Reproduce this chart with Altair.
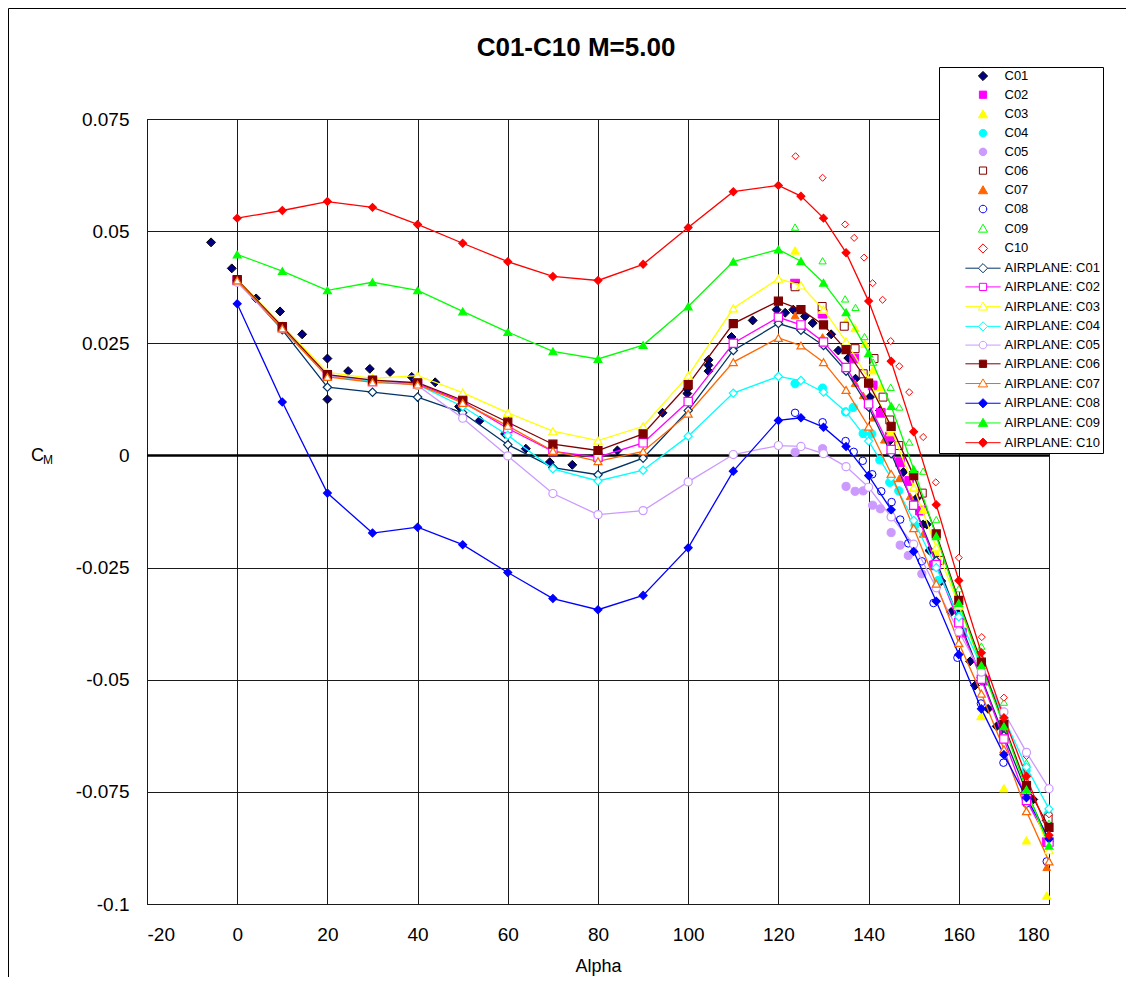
import altair as alt
import pandas as pd

# ---------------- text ----------------
TITLE = "C01-C10 M=5.00"
X_LABEL = "Alpha"
Y_LABEL_MAIN = "C"
Y_LABEL_SUB = "M"
X_TICKS = [-20, 0, 20, 40, 60, 80, 100, 120, 140, 160, 180]
Y_TICKS = [-0.1, -0.075, -0.05, -0.025, 0, 0.025, 0.05, 0.075]

SCATTER_NAMES = ["C01", "C02", "C03", "C04", "C05", "C06", "C07", "C08", "C09", "C10"]
LINE_NAMES = ["AIRPLANE: C01", "AIRPLANE: C02", "AIRPLANE: C03", "AIRPLANE: C04", "AIRPLANE: C05",
              "AIRPLANE: C06", "AIRPLANE: C07", "AIRPLANE: C08", "AIRPLANE: C09", "AIRPLANE: C10"]

# ---------------- scatter series (alpha, Cm) ----------------
C01_A = [-5.8, -1.2, 4.2, 9.5, 14.4, 20.0, 20.0, 24.6, 29.4, 33.9, 38.7, 39.5, 43.9, 49.2, 53.8,
         59.4, 64.0, 69.3, 74.3, 84.3, 94.3, 99.8, 99.8, 104.5, 104.5, 104.5, 109.6, 114.3, 119.6, 121.5,
         123.3, 125.9, 127.6, 131.7, 133.3, 135.5, 137.1, 140.3, 142.5, 144.7, 147.7, 150.7, 152.1, 152.9,
         153.5, 156.1, 158.3, 160.0, 162.5, 163.6, 166.5, 168.4, 176.5, 179.5]
C01_M = [0.0475, 0.0417, 0.0350, 0.0321, 0.0270, 0.0216, 0.0125, 0.0188, 0.0193, 0.0186, 0.0175, 0.0165,
         0.0163, 0.0109, 0.0078, 0.0048, 0.0015, -0.0015, -0.0021, 0.0011, 0.0095, 0.0138, 0.0148, 0.0213,
         0.0201, 0.0188, 0.0264, 0.0301, 0.0325, 0.0318, 0.0325, 0.0310, 0.0295, 0.0270, 0.0234, 0.0217,
         0.0171, 0.0130, 0.0100, 0.0033, -0.0037, -0.0095, -0.0154, -0.0154, -0.0212, -0.0280, -0.0349,
         -0.0349, -0.0459, -0.0513, -0.0565, -0.0604, -0.0767, -0.0814]

C02_A = [123.7, 129.8, 136.8, 140.9, 142.7, 144.7, 147.0, 149.0, 151.4, 154.5, 160.7, 165.8, 170.0, 174.9, 179.5]
C02_M = [0.0383, 0.0316, 0.0216, 0.0156, 0.0095, 0.0042, -0.0015, -0.0057, -0.0123, -0.0245, -0.0395,
         -0.0502, -0.0620, -0.0747, -0.0862]

C03_A = [123.7, 129.8, 135.0, 137.0, 139.2, 140.9, 142.7, 144.9, 149.9, 152.1, 154.9, 160.0, 164.9, 170.0, 175.0, 179.5]
C03_M = [0.0457, 0.0325, 0.0299, 0.0284, 0.0249, 0.0190, 0.0152, 0.0052, -0.0072, -0.0121, -0.0216, -0.0420,
         -0.0581, -0.0742, -0.0858, -0.0981]

C04_A = [123.7, 129.8, 134.9, 136.6, 138.8, 140.7, 142.5, 144.7, 146.7, 150.3, 155.4, 160.3, 165.1, 170.0, 174.9, 179.8]
C04_M = [0.0160, 0.0150, 0.0097, 0.0107, 0.0049, 0.0048, -0.0010, -0.0060, -0.0079, -0.0156, -0.0279, -0.0359,
         -0.0468, -0.0590, -0.0702, -0.0800]

C05_A = [123.7, 129.8, 135.0, 137.0, 138.8, 140.9, 142.6, 145.0, 147.0, 148.8, 151.8]
C05_M = [0.0007, 0.0015, -0.0069, -0.0080, -0.0079, -0.0111, -0.0119, -0.0172, -0.0200, -0.0223, -0.0264]

C06_A = [123.7, 129.7, 134.6, 137.0, 138.8, 141.2, 143.2, 144.7, 146.7, 151.9, 155.8, 179.8]
C06_M = [0.0376, 0.0332, 0.0288, 0.0238, 0.0182, 0.0216, 0.0130, 0.0079, 0.0022, -0.0084, -0.0234, -0.0810]

C07_A = [123.7, 129.8, 137.0, 138.8, 141.0, 143.5, 146.8, 149.2, 152.1, 154.7, 175.0, 179.5]
C07_M = [0.0312, 0.0264, 0.0161, 0.0134, 0.0084, 0.0035, -0.0051, -0.0091, -0.0175, -0.0234, -0.0793, -0.0918]

C08_A = [123.7, 129.8, 134.9, 136.7, 138.7, 140.8, 142.8, 145.1, 147.0, 148.8, 151.8, 154.4, 159.7, 164.9,
         169.9, 175.0, 179.5]
C08_M = [0.0095, 0.0074, 0.0032, 0.0008, -0.0012, -0.0042, -0.0080, -0.0104, -0.0143, -0.0196, -0.0236,
         -0.0329, -0.0451, -0.0553, -0.0685, -0.0776, -0.0905]

C09_A = [123.7, 129.8, 134.8, 137.1, 139.1, 141.0, 144.9, 146.8, 149.0, 152.1, 155.0, 160.0, 165.0, 170.0, 175.0, 180.0]
C09_M = [0.0509, 0.0434, 0.0349, 0.0330, 0.0265, 0.0208, 0.0152, 0.0108, 0.0030, -0.0035, -0.0143, -0.0297,
         -0.0425, -0.0550, -0.0685, -0.0820]

C10_A = [123.8, 129.8, 134.8, 136.8, 139.0, 140.9, 143.1, 144.9, 146.8, 149.0, 152.1, 154.9, 160.0, 165.1,
         170.0, 175.0, 180.0]
C10_M = [0.0667, 0.0619, 0.0515, 0.0485, 0.0441, 0.0384, 0.0347, 0.0255, 0.0199, 0.0141, 0.0041, -0.0060,
         -0.0228, -0.0405, -0.0540, -0.0670, -0.0800]

# ---------------- AIRPLANE line series ----------------
LINE_ALPHA = [0, 10, 20, 30, 40, 50, 60, 70, 80, 90, 100, 110, 120, 125, 130, 135, 140, 145, 150, 155,
              160, 165, 170, 175, 180]
AIR_C01 = [0.0390, 0.0280, 0.0152, 0.0141, 0.0130, 0.0095, 0.0024, -0.0027, -0.0043, -0.0006, 0.0100,
           0.0234, 0.0294, 0.0279, 0.0245, 0.0188, 0.0108, 0.0004, -0.0110, -0.0235, -0.0365, -0.0495,
           -0.0625, -0.0750, -0.0860]
AIR_C02 = [0.0390, 0.0285, 0.0178, 0.0165, 0.0160, 0.0120, 0.0060, 0.0009, -0.0004, 0.0028, 0.0120,
           0.0250, 0.0308, 0.0291, 0.0253, 0.0196, 0.0115, 0.0013, -0.0111, -0.0243, -0.0373, -0.0499,
           -0.0632, -0.0769, -0.0862]
AIR_C03 = [0.0392, 0.0290, 0.0185, 0.0172, 0.0178, 0.0140, 0.0095, 0.0054, 0.0033, 0.0065, 0.0178,
           0.0328, 0.0394, 0.0379, 0.0325, 0.0254, 0.0170, 0.0060, -0.0071, -0.0205, -0.0335, -0.0468,
           -0.0600, -0.0745, -0.0880]
AIR_C04 = [0.0388, 0.0284, 0.0177, 0.0165, 0.0158, 0.0109, 0.0045, -0.0030, -0.0057, -0.0033, 0.0043,
           0.0139, 0.0176, 0.0167, 0.0141, 0.0097, 0.0032, -0.0050, -0.0145, -0.0250, -0.0360, -0.0470,
           -0.0585, -0.0695, -0.0788]
AIR_C05 = [0.0386, 0.0283, 0.0178, 0.0168, 0.0156, 0.0083, -0.0001, -0.0085, -0.0132, -0.0123, -0.0059,
           0.0002, 0.0022, 0.0020, 0.0004, -0.0025, -0.0071, -0.0137, -0.0198, -0.0295, -0.0393, -0.0483,
           -0.0572, -0.0662, -0.0743]
AIR_C06 = [0.0392, 0.0287, 0.0180, 0.0168, 0.0162, 0.0123, 0.0074, 0.0025, 0.0011, 0.0048, 0.0158,
           0.0294, 0.0344, 0.0325, 0.0291, 0.0236, 0.0161, 0.0065, -0.0045, -0.0175, -0.0323, -0.0461,
           -0.0600, -0.0736, -0.0829]
AIR_C07 = [0.0390, 0.0283, 0.0175, 0.0163, 0.0158, 0.0117, 0.0066, 0.0010, -0.0013, 0.0009, 0.0093,
           0.0208, 0.0262, 0.0245, 0.0208, 0.0146, 0.0064, -0.0041, -0.0162, -0.0286, -0.0418, -0.0531,
           -0.0655, -0.0793, -0.0905]
AIR_C08 = [0.0338, 0.0119, -0.0084, -0.0173, -0.0160, -0.0199, -0.0261, -0.0319, -0.0344, -0.0312,
           -0.0206, -0.0035, 0.0078, 0.0084, 0.0063, 0.0020, -0.0045, -0.0121, -0.0214, -0.0325, -0.0444,
           -0.0565, -0.0667, -0.0763, -0.0855]
AIR_C09 = [0.0448, 0.0411, 0.0368, 0.0386, 0.0368, 0.0321, 0.0275, 0.0232, 0.0215, 0.0246, 0.0332,
           0.0432, 0.0459, 0.0433, 0.0385, 0.0319, 0.0228, 0.0110, -0.0031, -0.0180, -0.0329, -0.0468,
           -0.0604, -0.0745, -0.0870]
AIR_C10 = [0.0529, 0.0546, 0.0566, 0.0553, 0.0515, 0.0473, 0.0432, 0.0399, 0.0390, 0.0426, 0.0508,
           0.0588, 0.0602, 0.0578, 0.0529, 0.0452, 0.0344, 0.0210, 0.0053, -0.0110, -0.0279, -0.0440,
           -0.0585, -0.0715, -0.0847]

SCATTER_ALPHA = [C01_A, C02_A, C03_A, C04_A, C05_A, C06_A, C07_A, C08_A, C09_A, C10_A]
SCATTER_CM = [C01_M, C02_M, C03_M, C04_M, C05_M, C06_M, C07_M, C08_M, C09_M, C10_M]
LINE_CM = [AIR_C01, AIR_C02, AIR_C03, AIR_C04, AIR_C05, AIR_C06, AIR_C07, AIR_C08, AIR_C09, AIR_C10]

# ---------------- styles ----------------
FONT = "Arial"
SC_COLOR = ["#000080", "#FF00FF", "#FFFF00", "#00FFFF", "#CC99FF",
            "#800000", "#FF6600", "#0000FF", "#00FF00", "#FF0000"]
SC_EDGE = ["#000000", "#FF00FF", "#FFFF00", "#00FFFF", "#CC99FF",
           "#800000", "#FF6600", "#0000FF", "#00FF00", "#FF0000"]
SC_SHAPE = ["diamond", "square", "triangle-up", "circle", "circle",
            "square", "triangle-up", "circle", "triangle-up", "diamond"]
SC_FILLED = [True, True, True, True, True, False, True, False, False, False]
SHAPE_SIZE = {"diamond": 80, "square": 50, "triangle-up": 85, "circle": 60}

LN_COLOR = ["#003366", "#FF00FF", "#FFFF00", "#00FFFF", "#CC99FF",
            "#800000", "#FF6600", "#0000FF", "#00FF00", "#FF0000"]
LN_SHAPE = ["diamond", "square", "triangle-up", "diamond", "circle",
            "square", "triangle-up", "diamond", "triangle-up", "diamond"]
LN_FILLED = [False, False, False, False, False, True, False, True, True, True]
LN_SIZE = {"diamond": 70, "square": 60, "triangle-up": 90, "circle": 80}

# legend symbol paths (unit = 4 px at symbol size 64)
MARK_PATH = {
    "diamond": "M0,-1.15L1.15,0L0,1.15L-1.15,0Z",
    "square": "M-0.9,-0.9H0.9V0.9H-0.9Z",
    "triangle-up": "M0,-1.15L1.15,0.85H-1.15Z",
    "circle": "M0.95,0A0.95,0.95 0 1,1 -0.95,0A0.95,0.95 0 1,1 0.95,0Z",
}
GAP = {"diamond": 1.15, "square": 0.9, "triangle-up": 0.66, "circle": 0.95}
LEG_PATHS = [MARK_PATH[s] for s in SC_SHAPE] + [
    "M-4.4,0H-%.2fM%.2f,0H4.4" % (GAP[s], GAP[s]) + MARK_PATH[s] for s in LN_SHAPE]
LEG_FILL = [c if f else "#FFFFFF" for c, f in zip(SC_COLOR, SC_FILLED)] + \
           [c if f else "#FFFFFF" for c, f in zip(LN_COLOR, LN_FILLED)]
LEG_STROKE = SC_EDGE + LN_COLOR

# ---------------- tables ----------------
rows = []
for name, a_list, m_list in zip(SCATTER_NAMES, SCATTER_ALPHA, SCATTER_CM):
    for a, m in zip(a_list, m_list):
        rows.append({"sc": name, "alpha": a, "cm": m})
scatter_df = pd.DataFrame(rows)

rows = []
for name, m_list in zip(LINE_NAMES, LINE_CM):
    for a, m in zip(LINE_ALPHA, m_list):
        rows.append({"ln": name, "alpha": a, "cm": m})
line_df = pd.DataFrame(rows)

legend_df = pd.DataFrame({"leg": SCATTER_NAMES + LINE_NAMES,
                          "alpha": [-60.0] * 20, "cm": [0.0] * 20})

# ---------------- encodings ----------------
x_enc = alt.X("alpha:Q",
              scale=alt.Scale(domain=[-20, 180], nice=False, zero=False),
              axis=alt.Axis(values=X_TICKS, labelExpr="'' + datum.value", title=X_LABEL,
                            labelPadding=21, titlePadding=13))
y_enc = alt.Y("cm:Q",
              scale=alt.Scale(domain=[-0.1, 0.075], nice=False, zero=False),
              axis=alt.Axis(values=Y_TICKS, labelExpr="'' + datum.value", title=None,
                            labelPadding=18))

# chart-area border (Excel outer frame: left and top edges visible)
frame_left = alt.Chart(pd.DataFrame({"k": [0]})).mark_rule(color="#000000", strokeWidth=1).encode(
    x=alt.value(-138.5), y=alt.value(-110.5), y2=alt.value(870))
frame_top = alt.Chart(pd.DataFrame({"k": [0]})).mark_rule(color="#000000", strokeWidth=1).encode(
    x=alt.value(-138.5), x2=alt.value(985), y=alt.value(-110.5))

zero_line = alt.Chart(pd.DataFrame({"cm": [0.0]})).mark_rule(
    color="#000000", strokeWidth=2.6).encode(y=y_enc)

scatter = alt.Chart(scatter_df).mark_point(filled=True, opacity=1, strokeWidth=1).encode(
    x=x_enc, y=y_enc,
    shape=alt.Shape("sc:N", scale=alt.Scale(domain=SCATTER_NAMES, range=SC_SHAPE), legend=None),
    fill=alt.Fill("sc:N", scale=alt.Scale(domain=SCATTER_NAMES,
                  range=[c if f else "#FFFFFF" for c, f in zip(SC_COLOR, SC_FILLED)]), legend=None),
    stroke=alt.Stroke("sc:N", scale=alt.Scale(domain=SCATTER_NAMES, range=SC_EDGE), legend=None),
    size=alt.Size("sc:N", scale=alt.Scale(domain=SCATTER_NAMES, range=[SHAPE_SIZE[s] for s in SC_SHAPE]),
                  legend=None),
)

lines = alt.Chart(line_df).mark_line(strokeWidth=1.3).encode(
    x=x_enc, y=y_enc,
    stroke=alt.Stroke("ln:N", scale=alt.Scale(domain=LINE_NAMES, range=LN_COLOR), legend=None),
)

line_pts = alt.Chart(line_df).mark_point(filled=True, opacity=1, strokeWidth=1.2).encode(
    x=x_enc, y=y_enc,
    shape=alt.Shape("ln:N", scale=alt.Scale(domain=LINE_NAMES, range=LN_SHAPE), legend=None),
    fill=alt.Fill("ln:N", scale=alt.Scale(domain=LINE_NAMES,
                  range=[c if f else "#FFFFFF" for c, f in zip(LN_COLOR, LN_FILLED)]), legend=None),
    stroke=alt.Stroke("ln:N", scale=alt.Scale(domain=LINE_NAMES, range=LN_COLOR), legend=None),
    size=alt.Size("ln:N", scale=alt.Scale(domain=LINE_NAMES, range=[LN_SIZE[s] for s in LN_SHAPE]),
                  legend=None),
)

leg = alt.Legend(title=None, orient="none", legendX=792, legendY=-52, direction="vertical",
                 strokeColor="#000000", fillColor="#FFFFFF", padding=2.5, rowPadding=4.72,
                 labelFont=FONT, labelFontSize=13, labelColor="#000000", labelLimit=0,
                 symbolOffset=35, labelOffset=15, symbolStrokeWidth=1, symbolSize=64,
                 labelExpr="datum.label + '\u00a0\u00a0\u00a0\u00a0\u00a0\u00a0'")

ghost = alt.Chart(legend_df).mark_point(filled=True, opacity=1, size=64, strokeWidth=1, clip=True).encode(
    x=x_enc, y=y_enc,
    shape=alt.Shape("leg:N", scale=alt.Scale(domain=SCATTER_NAMES + LINE_NAMES, range=LEG_PATHS), legend=leg),
    fill=alt.Fill("leg:N", scale=alt.Scale(domain=SCATTER_NAMES + LINE_NAMES, range=LEG_FILL), legend=leg),
    stroke=alt.Stroke("leg:N", scale=alt.Scale(domain=SCATTER_NAMES + LINE_NAMES, range=LEG_STROKE), legend=leg),
)

title_txt = alt.Chart(pd.DataFrame({"t": [TITLE]})).mark_text(
    font=FONT, fontSize=26, fontWeight="bold", align="center", baseline="middle", color="#000000").encode(
    x=alt.value(429), y=alt.value(-71), text="t:N")

ytitle_c = alt.Chart(pd.DataFrame({"t": [Y_LABEL_MAIN]})).mark_text(
    font=FONT, fontSize=18, align="left", baseline="alphabetic", color="#000000").encode(
    x=alt.value(-116), y=alt.value(342), text="t:N")
ytitle_m = alt.Chart(pd.DataFrame({"t": [Y_LABEL_SUB]})).mark_text(
    font=FONT, fontSize=12, align="left", baseline="alphabetic", color="#000000").encode(
    x=alt.value(-104), y=alt.value(345), text="t:N")

chart = alt.layer(frame_left, frame_top, zero_line, scatter, lines, line_pts, ghost,
                  title_txt, ytitle_c, ytitle_m).resolve_scale(
    shape="independent", fill="independent", stroke="independent", size="independent"
).properties(
    width=902, height=785,
    autosize=alt.AutoSizeParams(type="none"),
    padding={"left": 139, "top": 111, "right": 77, "bottom": 73},
    background="#FFFFFF",
).configure_view(
    stroke="#000000", strokeWidth=1
).configure_axis(
    labelFont=FONT, labelFontSize=19, labelColor="#000000",
    titleFont=FONT, titleFontSize=18, titleFontWeight="normal", titleColor="#000000",
    grid=True, gridColor="#1a1a1a", gridWidth=1, gridOpacity=1,
    ticks=False, domain=False,
)

chart.save("out.html", embed_options={"renderer": "svg", "actions": False})
